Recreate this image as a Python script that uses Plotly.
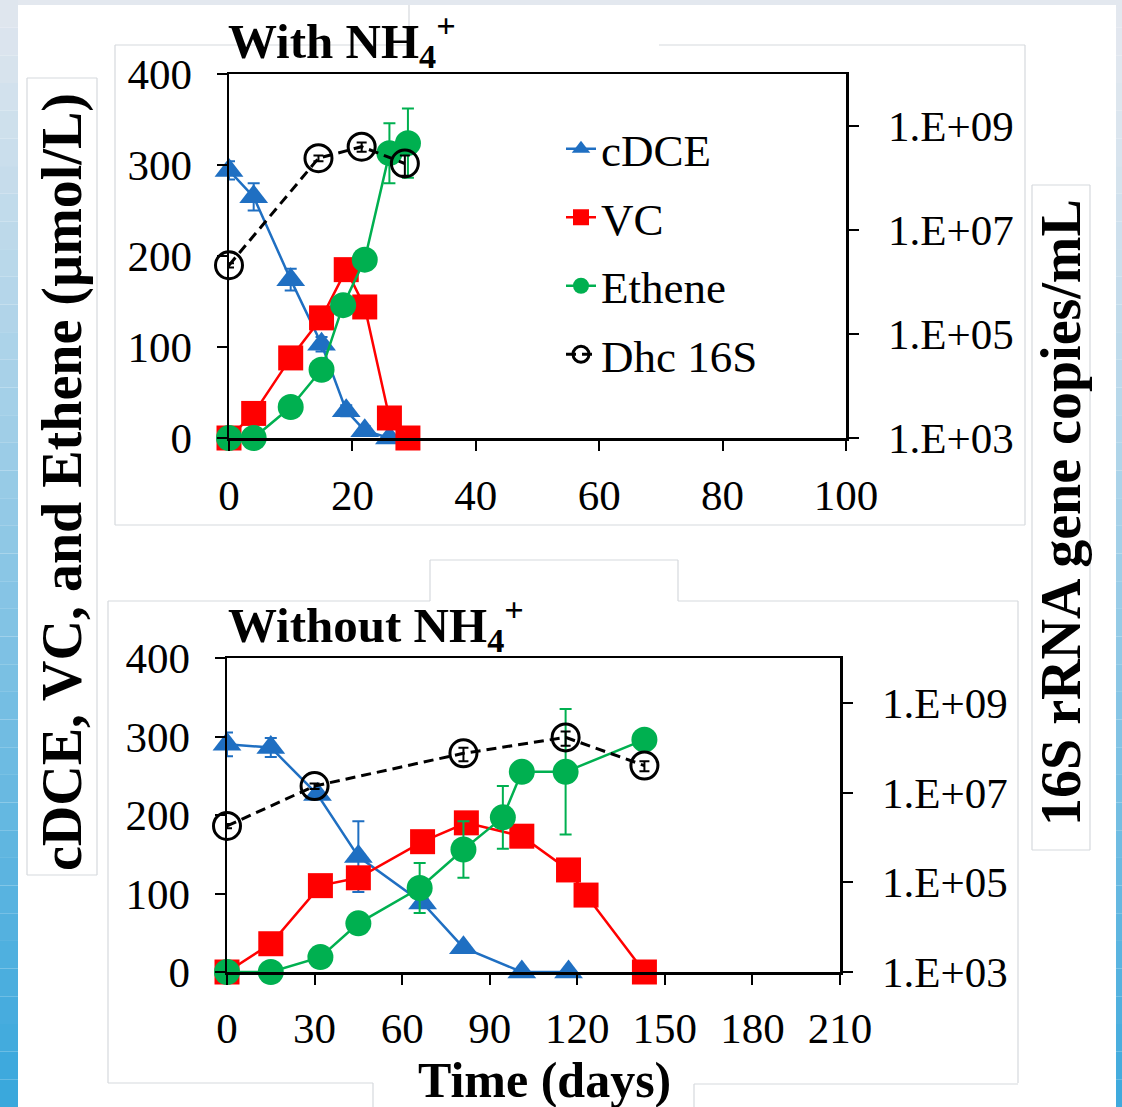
import plotly.graph_objects as go

W, H = 1122, 1107

# ---------------- data: With NH4+ (top panel) ----------------
top_cdce_day = [0, 4, 10, 15, 19, 22, 26]
top_cdce = [294, 265, 174, 103, 30, 8, 0]
top_cdce_err = [10, 15, 12, 8, 6, 5, 0]
top_vc_day = [0, 4, 10, 15, 19, 22, 26, 29]
top_vc = [0, 27, 88, 132, 185, 144, 22, 0]
top_eth_day = [0, 4, 10, 15, 18.5, 22, 26, 29]
top_eth = [0, 0, 34, 75, 146, 196, 313, 324]
top_eth_err = [0, 0, 3, 5, 5, 5, 33, 38]
top_dhc_day = [0, 14.5, 21.5, 28.5]
top_dhc = [2.1e6, 2.4e8, 4.0e8, 1.9e8]
top_dhc_err = [2e5, 3e7, 8e7, 8e7]

# ---------------- data: Without NH4+ (bottom panel) ----------------
bot_cdce_day = [0, 15, 31, 45, 67, 81, 101, 117]
bot_cdce = [290, 286, 226, 147, 88, 31, 0, 0]
bot_cdce_err = [15, 12, 5, 45, 5, 3, 0, 0]
bot_vc_day = [0, 15, 32, 45, 67, 82, 101, 117, 123, 143]
bot_vc = [0, 36, 110, 120, 166, 190, 173, 130, 98, 0]
bot_eth_day = [0, 15, 32, 45, 66, 81, 94.5, 101, 116, 143]
bot_eth = [0, 0, 19, 62, 107, 156, 197, 255, 255, 296]
bot_eth_err = [0, 0, 3, 5, 32, 36, 40, 5, 80, 5]
bot_dhc_day = [0, 30, 81, 116, 143]
bot_dhc = [1.8e6, 1.4e7, 7.5e7, 1.7e8, 4.0e7]
bot_dhc_err = [2e5, 2e6, 2.5e7, 6e7, 1e7]

log_tickvals = [1e3, 1e5, 1e7, 1e9]
log_ticktext = ["1.E+03", "1.E+05", "1.E+07", "1.E+09"]

BLUE = "#1F6FC2"
RED = "#FF0000"
GREEN = "#00B050"
BLACK = "#000000"
SERIF = "Liberation Serif"

fig = go.Figure()


def add_panel(xa, ya, ya2, cd, c, ce, vd, v, ed, e, ee, dd, dv, de, legend):
    fig.add_trace(go.Scatter(
        x=cd, y=c, xaxis=xa, yaxis=ya, name="cDCE", legendgroup="a",
        showlegend=legend, mode="lines+markers", cliponaxis=False,
        line=dict(color=BLUE, width=2.5),
        marker=dict(symbol="triangle-up", size=25, color=BLUE),
        error_y=dict(type="data", array=ce, color=BLUE, thickness=2, width=6)))
    fig.add_trace(go.Scatter(
        x=vd, y=v, xaxis=xa, yaxis=ya, name="VC", legendgroup="b",
        showlegend=legend, mode="lines+markers", cliponaxis=False,
        line=dict(color=RED, width=2.5),
        marker=dict(symbol="square", size=25, color=RED)))
    fig.add_trace(go.Scatter(
        x=ed, y=e, xaxis=xa, yaxis=ya, name="Ethene", legendgroup="c",
        showlegend=legend, mode="lines+markers", cliponaxis=False,
        line=dict(color=GREEN, width=2.5),
        marker=dict(symbol="circle", size=26, color=GREEN),
        error_y=dict(type="data", array=ee, color=GREEN, thickness=2, width=6)))
    fig.add_trace(go.Scatter(
        x=dd, y=dv, xaxis=xa, yaxis=ya2, name="Dhc 16S", legendgroup="d",
        showlegend=legend, mode="lines+markers", cliponaxis=False,
        line=dict(color=BLACK, width=3, dash="10px,6px"),
        marker=dict(symbol="circle-open", size=27, color=BLACK,
                    line=dict(width=3, color=BLACK)),
        error_y=dict(type="data", array=de, color=BLACK, thickness=2, width=5)))


add_panel("x", "y", "y2", top_cdce_day, top_cdce, top_cdce_err,
          top_vc_day, top_vc, top_eth_day, top_eth, top_eth_err,
          top_dhc_day, top_dhc, top_dhc_err, True)
add_panel("x3", "y3", "y4", bot_cdce_day, bot_cdce, bot_cdce_err,
          bot_vc_day, bot_vc, bot_eth_day, bot_eth, bot_eth_err,
          bot_dhc_day, bot_dhc, bot_dhc_err, False)


def px_x(p):
    return p / W


def px_y(p):
    return 1 - p / H


tickfont = dict(family=SERIF, size=43, color=BLACK)
axis_common = dict(showline=True, linecolor=BLACK, linewidth=2.5,
                   ticks="outside", ticklen=10, tickwidth=2, tickcolor=BLACK,
                   showgrid=False, zeroline=False, tickfont=tickfont,
                   automargin=False)

fig.update_layout(
    template="none",
    width=W, height=H,
    margin=dict(l=0, r=0, t=0, b=0, pad=0, autoexpand=False),
    paper_bgcolor="white", plot_bgcolor="rgba(0,0,0,0)",
    showlegend=True,
    legend=dict(x=px_x(561), y=px_y(113), xanchor="left", yanchor="top",
                font=dict(family=SERIF, size=45, color=BLACK),
                bgcolor="rgba(0,0,0,0)", borderwidth=0,
                tracegroupgap=7, traceorder="grouped"),
    xaxis=dict(domain=[px_x(229), px_x(846)], range=[0, 100], dtick=20,
               anchor="y", mirror=True, ticklabelstandoff=8, **axis_common),
    yaxis=dict(domain=[px_y(438), px_y(74)], range=[0, 400], dtick=100,
               anchor="x", ticklabelstandoff=16, **axis_common),
    yaxis2=dict(overlaying="y", side="right", anchor="x", type="log",
                range=[3, 10], tickvals=log_tickvals, ticktext=log_ticktext,
                ticklabelstandoff=21, **axis_common),
    xaxis3=dict(domain=[px_x(227), px_x(840)], range=[0, 210], dtick=30,
                anchor="y3", mirror=True, ticklabelstandoff=7, **axis_common),
    yaxis3=dict(domain=[px_y(972), px_y(658)], range=[0, 400], dtick=100,
                anchor="x3", ticklabelstandoff=16, **axis_common),
    yaxis4=dict(overlaying="y3", side="right", anchor="x3", type="log",
                range=[3, 10], tickvals=log_tickvals, ticktext=log_ticktext,
                ticklabelstandoff=21, **axis_common),
)

# ---------------- text ----------------
bold = dict(family=SERIF, color=BLACK, weight="bold")
fig.add_annotation(text="With NH<sub>4</sub><sup>+</sup>", xref="paper", yref="paper",
                   x=px_x(226), y=px_y(40), xanchor="left", yanchor="middle",
                   showarrow=False, font=dict(size=49, **bold))
fig.add_annotation(text="Without NH<sub>4</sub><sup>+</sup>", xref="paper", yref="paper",
                   x=px_x(226), y=px_y(624), xanchor="left", yanchor="middle",
                   showarrow=False, font=dict(size=49, **bold))
fig.add_annotation(text="cDCE, VC, and Ethene (µmol/L)", xref="paper", yref="paper",
                   x=px_x(62), y=px_y(482), xanchor="center", yanchor="middle",
                   textangle=-90, showarrow=False, font=dict(size=56, **bold))
fig.add_annotation(text="16S rRNA gene copies/mL", xref="paper", yref="paper",
                   x=px_x(1061), y=px_y(513), xanchor="center", yanchor="middle",
                   textangle=-90, showarrow=False, font=dict(size=56, **bold))
fig.add_annotation(text="Time (days)", xref="paper", yref="paper",
                   x=px_x(544), y=px_y(1080), xanchor="center", yanchor="middle",
                   showarrow=False, font=dict(size=50, **bold))

# ---------------- decorative frame (screenshot background) ----------------
shapes = []
GRAY = "#d6d9dd"


def hexmix(c1, c2, t):
    a = [int(c1[i:i + 2], 16) for i in (1, 3, 5)]
    b = [int(c2[i:i + 2], 16) for i in (1, 3, 5)]
    return "#" + "".join("%02x" % round(a[k] + (b[k] - a[k]) * t) for k in range(3))


shapes.append(dict(type="rect", xref="paper", yref="paper", x0=0, x1=1,
                   y0=px_y(5), y1=1, fillcolor="#e3e8ef", line=dict(width=0), layer="below"))
n = 40
for i in range(n):
    t0, t1 = i / n, (i + 1) / n
    col_l = hexmix("#dfe6ee", "#36a6dc", t0)
    shapes.append(dict(type="rect", xref="paper", yref="paper",
                       x0=0, x1=px_x(18), y0=px_y(t1 * H), y1=px_y(t0 * H),
                       fillcolor=col_l, line=dict(width=0), layer="below"))
    col_r = hexmix("#e3e8ef", "#3aa8dc", t0 ** 1.3)
    shapes.append(dict(type="rect", xref="paper", yref="paper",
                       x0=px_x(1116), x1=1, y0=px_y(t1 * H), y1=px_y(t0 * H),
                       fillcolor=col_r, line=dict(width=0), layer="below"))


def seg(xa, ya, xb, yb):
    shapes.append(dict(type="line", xref="paper", yref="paper",
                       x0=px_x(xa), y0=px_y(ya), x1=px_x(xb), y1=px_y(yb),
                       line=dict(color=GRAY, width=1.2), layer="below"))


# top panel box
seg(115, 45, 409, 45); seg(659, 45, 1025, 45)
seg(115, 45, 115, 525); seg(1025, 45, 1025, 525); seg(115, 525, 1025, 525)
seg(409, 5, 409, 45)
# left and right title boxes
seg(27, 78, 97, 78); seg(27, 78, 27, 875); seg(97, 78, 97, 875); seg(27, 875, 97, 875)
seg(1032, 185, 1090, 185); seg(1032, 185, 1032, 850); seg(1090, 185, 1090, 850)
seg(1032, 850, 1090, 850)
# bottom panel box
seg(108, 601, 430, 601); seg(678, 601, 1018, 601)
seg(430, 560, 678, 560); seg(430, 560, 430, 601); seg(678, 560, 678, 601)
seg(108, 601, 108, 1083); seg(1018, 601, 1018, 1083)
seg(108, 1083, 373, 1083); seg(694, 1084, 1018, 1084)
seg(373, 1083, 373, 1107); seg(694, 1084, 694, 1107)

fig.update_layout(shapes=shapes)

page_js = ("document.documentElement.style.margin='0';"
           "document.documentElement.style.overflow='hidden';"
           "document.body.style.margin='0';document.body.style.padding='0';"
           "document.body.style.overflow='hidden';")

fig.write_html("out.html", post_script=page_js,
               config={"displayModeBar": False, "staticPlot": True})
